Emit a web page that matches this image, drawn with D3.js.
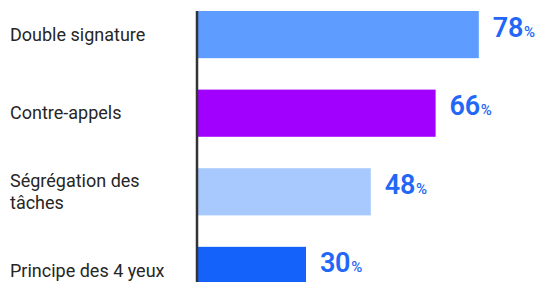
<!DOCTYPE html>
<html><head><meta charset="utf-8">
<script src="https://cdn.jsdelivr.net/npm/d3@7"></script>
<style>html,body{margin:0;padding:0;background:#fff;overflow:hidden}</style>
</head><body>
<svg id="c" width="542" height="282"></svg>
<script>
const categories = ["Double signature", "Contre-appels", "Ségrégation des tâches", "Principe des 4 yeux"];
const values = [78, 66, 48, 30];
const barColors = ["#5e9dff", "#a100ff", "#a7c9fe", "#1562fa"];

const svg = d3.select("#c");
const x = d3.scaleLinear().domain([0, 100]).range([198, 558]);
const y = d3.scaleBand().domain(categories).range([11, 294]).paddingInner(0.4).paddingOuter(0);

svg.selectAll("rect.bar").data(categories).join("rect")
  .attr("class", "bar")
  .attr("x", x(0))
  .attr("y", d => y(d))
  .attr("width", (d, i) => x(values[i]) - x(0))
  .attr("height", y.bandwidth())
  .attr("fill", (d, i) => barColors[i]);

svg.append("line")
  .attr("x1", x(0) - 1).attr("x2", x(0) - 1)
  .attr("y1", y(categories[0])).attr("y2", 300)
  .attr("stroke", "#333").attr("stroke-width", 2.5);

// category labels with wrapping
const labels = svg.selectAll("text.cat").data(categories).join("text")
  .attr("class", "cat")
  .attr("x", 10)
  .attr("font-family", "Roboto")
  .attr("font-size", 18)
  .attr("fill", "#262626");
labels.each(function(d) {
  const t = d3.select(this);
  const words = d.split(" ");
  let lines = [], line = [];
  const tmp = t.append("tspan");
  words.forEach(w => {
    line.push(w);
    tmp.text(line.join(" "));
    if (tmp.node().getComputedTextLength() > 165 && line.length > 1) {
      line.pop(); lines.push(line.join(" ")); line = [w];
    }
  });
  lines.push(line.join(" "));
  tmp.remove();
  const lh = 22;
  const cy = y(d) + y.bandwidth() / 2;
  const first = cy - (lines.length - 1) * lh / 2 + 6.3;
  lines.forEach((l, k) => {
    t.append("tspan").attr("x", 10).attr("y", first + k * lh).text(l);
  });
});

// value labels
const vl = svg.selectAll("text.val").data(categories).join("text")
  .attr("class", "val")
  .attr("x", (d, i) => x(values[i]) + 14)
  .attr("y", d => y(d) + y.bandwidth() / 2 + 2)
  .attr("font-family", "Roboto")
  .attr("font-weight", 600)
  .attr("fill", "#2367f6");
vl.append("tspan").attr("font-size", 27).attr("letter-spacing", -0.3).text((d, i) => values[i]);
vl.append("tspan").attr("font-size", 15).attr("font-weight", 500).attr("dx", 1).text("%");
</script>
</body></html>
